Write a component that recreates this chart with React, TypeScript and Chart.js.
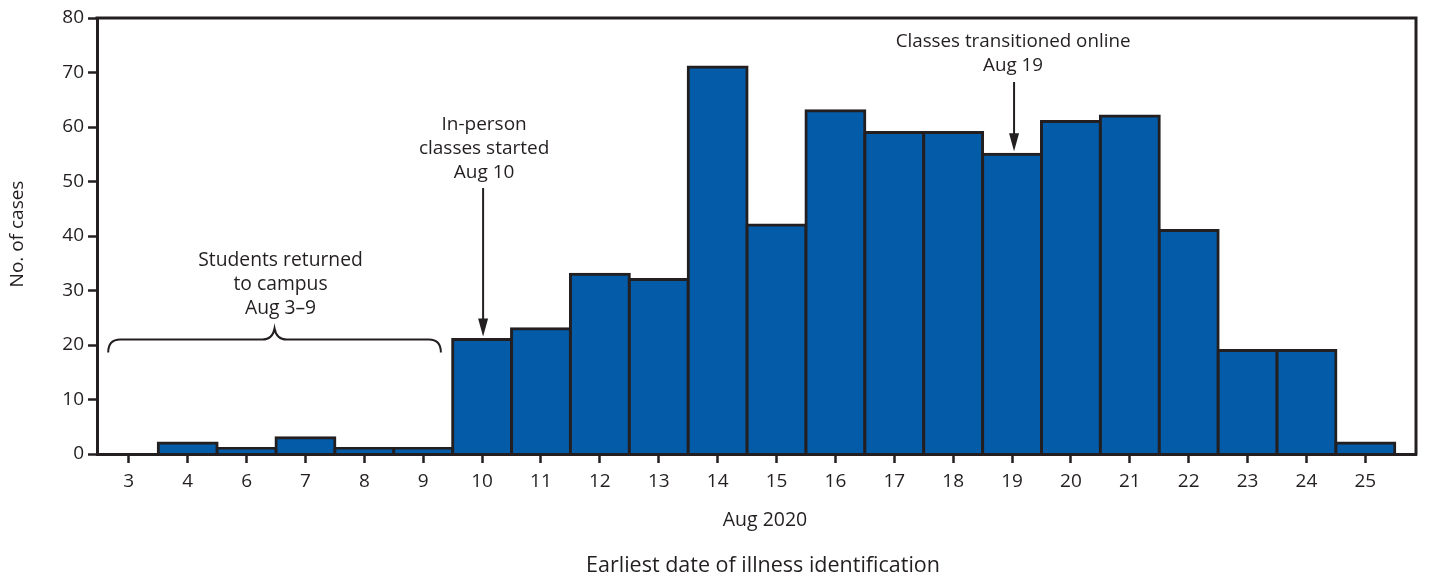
import React, { useEffect, useRef } from "react";
import { Chart, registerables } from "chart.js";

Chart.register(...registerables);

// ---- Data ----
const dayLabels = ["3", "4", "6", "7", "8", "9", "10", "11", "12", "13", "14", "15", "16", "17", "18", "19", "20", "21", "22", "23", "24", "25"];
const caseCounts = [0, 2, 1, 3, 1, 1, 21, 23, 33, 32, 71, 42, 63, 59, 59, 55, 61, 62, 41, 19, 19, 2];
const yTickValues = [0, 10, 20, 30, 40, 50, 60, 70, 80];

const yAxisTitle = "No. of cases";
const xAxisSubtitle = "Aug 2020";
const xAxisTitle = "Earliest date of illness identification";
const returnedNote = ["Students returned", "to campus", "Aug 3–9"];
const inPersonNote = ["In-person", "classes started", "Aug 10"];
const inPersonDay = "10";
const onlineNote = ["Classes transitioned online", "Aug 19"];
const onlineDay = "19";

const INK = "#231f20";
const BAR = "#045ca9";
const FONT = "'Open Sans', 'Noto Sans', sans-serif";

function drawArrow(ctx: CanvasRenderingContext2D, x: number, y0: number, y1: number) {
  ctx.save();
  ctx.strokeStyle = INK;
  ctx.fillStyle = INK;
  ctx.lineWidth = 2;
  ctx.beginPath();
  ctx.moveTo(x, y0);
  ctx.lineTo(x, y1 - 16);
  ctx.stroke();
  ctx.beginPath();
  ctx.moveTo(x - 5, y1 - 18);
  ctx.lineTo(x + 5, y1 - 18);
  ctx.lineTo(x, y1);
  ctx.closePath();
  ctx.fill();
  ctx.restore();
}

function drawLines(ctx: CanvasRenderingContext2D, lines: string[], x: number, yFirst: number, step: number) {
  lines.forEach((t, i) => ctx.fillText(t, x, yFirst + i * step));
}

const decorPlugin = {
  id: "decor",
  afterDraw(chart: any) {
    const ctx: CanvasRenderingContext2D = chart.ctx;
    const { left, right, top, bottom } = chart.chartArea;
    const xs = chart.scales.x;
    const ys = chart.scales.y;
    ctx.save();
    // frame top & right
    ctx.strokeStyle = INK;
    ctx.lineWidth = 3;
    ctx.beginPath();
    ctx.moveTo(left - 1.5, top);
    ctx.lineTo(right, top);
    ctx.lineTo(right, bottom + 1.5);
    ctx.stroke();

    ctx.fillStyle = INK;
    ctx.textAlign = "center";
    ctx.textBaseline = "middle";

    // y title
    ctx.save();
    ctx.translate(18, 234);
    ctx.rotate(-Math.PI / 2);
    ctx.font = `19px ${FONT}`;
    ctx.fillText(yAxisTitle, 0, 0);
    ctx.restore();

    // x titles
    ctx.font = `19.5px ${FONT}`;
    ctx.fillText(xAxisSubtitle, 765, 520);
    ctx.font = `21.5px ${FONT}`;
    ctx.fillText(xAxisTitle, 763, 566);

    // Students returned note + brace
    ctx.font = `19.3px ${FONT}`;
    const bl = xs.getPixelForValue(-0.35);
    const br = xs.getPixelForValue(5.3);
    const bm = (bl + br) / 2;
    drawLines(ctx, returnedNote, bm + 6, 261, 24);
    const yh = ys.getPixelForValue(21);
    ctx.lineWidth = 2;
    ctx.beginPath();
    ctx.moveTo(bl, yh + 13);
    ctx.quadraticCurveTo(bl, yh, bl + 12, yh);
    ctx.lineTo(bm - 12, yh);
    ctx.quadraticCurveTo(bm - 2, yh, bm, yh - 11);
    ctx.quadraticCurveTo(bm + 2, yh, bm + 12, yh);
    ctx.lineTo(br - 12, yh);
    ctx.quadraticCurveTo(br, yh, br, yh + 13);
    ctx.stroke();

    // In-person note
    const ip = dayLabels.indexOf(inPersonDay);
    const ipx = xs.getPixelForValue(ip);
    ctx.font = `19px ${FONT}`;
    drawLines(ctx, inPersonNote, ipx + 2, 125, 24);
    drawArrow(ctx, ipx + 1, 188, ys.getPixelForValue(caseCounts[ip]) - 3);

    // Online note
    const on = dayLabels.indexOf(onlineDay);
    const onx = xs.getPixelForValue(on);
    ctx.font = `18.8px ${FONT}`;
    drawLines(ctx, onlineNote, onx + 1, 42, 24);
    drawArrow(ctx, onx + 2, 82, ys.getPixelForValue(caseCounts[on]) - 3);

    ctx.restore();
  },
};

export default function App() {
  const ref = useRef<HTMLCanvasElement | null>(null);
  useEffect(() => {
    document.body.style.margin = "0";
    const canvas = ref.current;
    if (!canvas) return;
    const chart = new Chart(canvas, {
      type: "bar",
      data: {
        datasets: [
          {
            data: caseCounts.map((y, i) => ({ x: i, y })),
            backgroundColor: BAR,
            borderColor: INK,
            borderWidth: 3,
            inflateAmount: 1.5,
            barPercentage: 1,
            categoryPercentage: 1,
          },
        ],
      },
      options: {
        animation: false,
        responsive: false,
        devicePixelRatio: 1,
        layout: { padding: { top: 18, right: 23, left: 0, bottom: 0 } },
        plugins: { legend: { display: false }, tooltip: { enabled: false }, title: { display: false } },
        scales: {
          x: {
            type: "linear",
            offset: false,
            min: -0.54,
            max: 21.86,
            afterBuildTicks: (s: any) => {
              s.ticks = dayLabels.map((_, i) => ({ value: i }));
            },
            afterFit: (s: any) => {
              s.height = 125;
            },
            ticks: {
              autoSkip: false,
              maxRotation: 0,
              padding: 7,
              color: INK,
              font: { family: FONT, size: 19 },
              callback: (v: any) => dayLabels[v] ?? "",
            },
            grid: { display: true, offset: false, drawOnChartArea: false, drawTicks: true, tickLength: 9, tickColor: INK, tickWidth: 2.5 },
            border: { display: true, color: INK, width: 3, z: 2 },
          },
          y: {
            min: 0,
            max: 80,
            afterBuildTicks: (s: any) => {
              s.ticks = yTickValues.map((v) => ({ value: v }));
            },
            afterFit: (s: any) => {
              s.width = 97;
            },
            ticks: { padding: 4, color: INK, font: { family: FONT, size: 19 } },
            grid: { display: true, drawOnChartArea: false, drawTicks: true, tickLength: 9, tickColor: INK, tickWidth: 2.5 },
            border: { display: true, color: INK, width: 3, z: 2 },
          },
        },
      },
      plugins: [decorPlugin],
    } as any);
    return () => chart.destroy();
  }, []);
  return (
    <div style={{ width: 1439, height: 579, background: "#fff" }}>
      <canvas ref={ref} width={1439} height={579} style={{ display: "block" }} />
    </div>
  );
}
